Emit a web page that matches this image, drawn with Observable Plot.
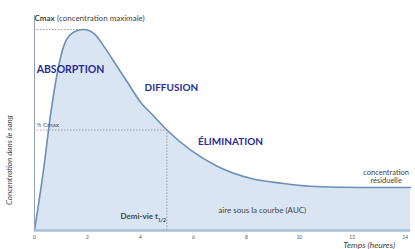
<!DOCTYPE html>
<html>
<head>
<meta charset="utf-8">
<script src="https://cdn.jsdelivr.net/npm/d3@7"></script>
<script src="https://cdn.jsdelivr.net/npm/@observablehq/plot@0.6"></script>
<style>
  html, body { margin: 0; padding: 0; background: #fff; }
</style>
</head>
<body>
<div id="chart"></div>
<script>
// Time (hours) and normalized blood concentration (Cmax = 100)
const time = [0, 0.34, 0.6, 0.8, 1.06, 1.4, 1.85, 2.25, 2.68, 3.1, 3.5, 4.0, 4.5, 5.0, 5.9, 6.9, 8.15, 9.4, 10.4, 11.5, 12.5, 14.2];
const conc = [0, 30, 57, 74, 90, 98, 100, 98, 90.5, 82, 74, 64, 57, 50, 40, 32, 26, 23.4, 22, 21.5, 21.4, 21.4];
const xTicks = [0, 2, 4, 6, 8, 10, 12, 14];
const tHalf = 5.0;

const data = time.map((t, i) => ({t, c: conc[i]}));
const cmax = d3.max(conc);
const tmax = time[d3.maxIndex(conc)];

const font = "Lato, 'Open Sans', sans-serif";
const navy = "#2a2c96";
const gray = "#444";

const chart = Plot.plot({
  width: 415,
  height: 249,
  marginLeft: 34,
  marginRight: 5,
  marginTop: 15,
  marginBottom: 19,
  x: {domain: [0, 14.2]},
  y: {domain: [0, 107], axis: null},
  style: {fontFamily: font, fontSize: "5px", color: "#555", background: "#fff", overflow: "visible"},
  marks: [
    Plot.areaY(data, {x: "t", y: "c", fill: "#d9e5f3", curve: "monotone-x"}),
    Plot.lineY(data, {x: "t", y: "c", stroke: "#6d8fb6", strokeWidth: 1.6, curve: "monotone-x"}),
    Plot.ruleY([cmax], {x1: 0, x2: tmax, stroke: "#888", strokeWidth: 0.8, strokeDasharray: "1.5,1.5"}),
    Plot.ruleY([cmax / 2], {x1: 0, x2: tHalf, stroke: "#888", strokeWidth: 0.8, strokeDasharray: "1.5,1.5"}),
    Plot.ruleX([tHalf], {y1: 0, y2: cmax / 2, stroke: "#888", strokeWidth: 0.8, strokeDasharray: "1.5,1.5"}),
    Plot.ruleX([0], {y1: 0, y2: 107, stroke: "#8fa2b8", strokeWidth: 1}),
    Plot.ruleY([0], {stroke: "#a9bfd6", strokeWidth: 2.5}),
    Plot.axisX({ticks: xTicks, tickSize: 0, tickPadding: 5, label: null, fill: "#555"}),
    // Cmax label
    Plot.text(["Cmax"], {x: 0, y: 105.5, text: d => d, textAnchor: "start", fontWeight: "bold", fontSize: 8, fill: gray}),
    Plot.text(["(concentration maximale)"], {x: 0, y: 105.5, dx: 22.5, text: d => d, textAnchor: "start", fontSize: 8, fill: gray}),
    Plot.text(["½ Cmax"], {x: 0, y: cmax / 2, dx: 2, dy: -5, text: d => d, textAnchor: "start", fontSize: 6.5, fill: gray}),
    // phase labels
    Plot.text(["ABSORPTION"], {x: 1.36, y: 80, text: d => d, fontWeight: "bold", fontSize: 10.5, fill: navy}),
    Plot.text(["DIFFUSION"], {x: 5.17, y: 71, text: d => d, fontWeight: "bold", fontSize: 10, fill: navy}),
    Plot.text(["ÉLIMINATION"], {x: 7.4, y: 44.3, text: d => d, fontWeight: "bold", fontSize: 10, fill: navy}),
    Plot.text(["concentration"], {x: 13.28, y: 28.9, text: d => d, fontSize: 7.5, fill: gray}),
    Plot.text(["résiduelle"], {x: 13.28, y: 24.9, text: d => d, fontSize: 7.5, fill: gray}),
    Plot.text(["aire sous la courbe (AUC)"], {x: 6.94, y: 10, text: d => d, textAnchor: "start", fontSize: 8, fill: gray}),
    Plot.text(["Demi-vie t"], {x: tHalf, y: 7, dx: -9, text: d => d, textAnchor: "end", fontWeight: "bold", fontSize: 8, fill: gray}),
    Plot.text(["1/2"], {x: tHalf, y: 7, dx: -9, dy: 3.5, text: d => d, textAnchor: "start", fontWeight: "bold", fontSize: 5, fill: gray}),
    // axis titles
    Plot.text(["Concentration dans le sang"], {x: -0.94, y: 35, rotate: -90, text: d => d, fontStyle: "italic", fontSize: 8, fill: gray}),
    Plot.text(["Temps (heures)"], {x: 11.66, y: -7.3, text: d => d, textAnchor: "start", fontStyle: "italic", fontSize: 8.5, fill: gray})
  ]
});
document.getElementById("chart").appendChild(chart);
</script>
</body>
</html>
